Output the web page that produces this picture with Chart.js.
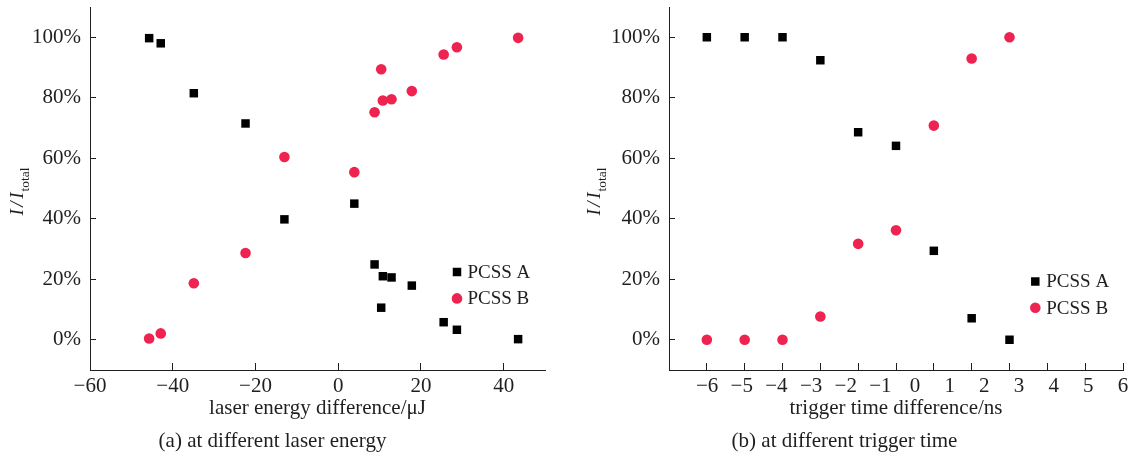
<!DOCTYPE html>
<html>
<head>
<meta charset="utf-8">
<script src="https://cdn.jsdelivr.net/npm/chart.js@4/dist/chart.umd.min.js"></script>
<style>
html, body { margin: 0; padding: 0; background: #ffffff; }
#wrap { position: relative; width: 1133px; height: 459px; overflow: hidden; }
.box { position: absolute; top: 0; height: 459px; }
#boxA { left: 0; width: 566px; }
#boxB { left: 566px; width: 567px; }
</style>
</head>
<body>
<div id="wrap">
  <div class="box" id="boxA"><canvas id="cA"></canvas></div>
  <div class="box" id="boxB"><canvas id="cB"></canvas></div>
</div>
<script>
// ---------- data ----------
// (a) at different laser energy
const energyDiff = [-45.7, -42.9, -34.9, -22.4, -13.0, 3.9, 8.8, 10.4, 10.8, 12.9, 17.8, 25.5, 28.7, 43.5];
const energyA    = [99.7, 98.0, 81.5, 71.5, 39.8, 45.0, 24.9, 10.6, 21.0, 20.6, 17.9, 5.8, 3.3, 0.2];
const energyB    = [0.4, 2.1, 18.7, 28.7, 60.4, 55.4, 75.2, 89.4, 79.1, 79.5, 82.2, 94.3, 96.7, 99.8];
// (b) at different trigger time
const triggerDiff = [-6, -5, -4, -3, -2, -1, 1, 2, 3];
const triggerA    = [100, 100, 100, 92.4, 68.6, 64.1, 29.4, 7.1, 0];
const triggerB    = [0, 0, 0, 7.7, 31.7, 36.2, 70.8, 93.0, 100];
// ticks
const yTicks = [0, 20, 40, 60, 80, 100];
const energyTicks = [-60, -40, -20, 0, 20, 40];
const triggerTickMarks = [-6, -5, -4, -3, -2, -1, 1, 2, 3, 4, 5, 6];
const triggerTickLabels = [-6, -5, -4, -3, -2, -1, 0, 1, 2, 3, 4, 5, 6];
const seriesNames = ['PCSS A', 'PCSS B'];
const captions = ['(a) at different laser energy', '(b) at different trigger time'];
const xTitles = ['laser energy difference/\u03bcJ', 'trigger time difference/ns'];

// ---------- styles ----------
const FONT = "'Liberation Serif', 'Times New Roman', Times, serif";
const INK = '#1f1f1f';
const RED = '#EE2350';
const BLACK = '#000000';
const SQ_R = 6;
const CI_R = 5.3;
const minusFmt = v => String(v).replace('-', '\u2212');

const yTitlePlugin = {
  id: 'yTitle',
  afterDraw(chart, args, opts) {
    const ctx = chart.ctx, ca = chart.chartArea;
    ctx.save();
    ctx.translate(opts.x, (ca.top + ca.bottom) / 2 + opts.dy);
    ctx.rotate(-Math.PI / 2);
    ctx.fillStyle = INK;
    ctx.textBaseline = 'alphabetic';
    ctx.textAlign = 'left';
    const mainFont = 'italic 19px ' + FONT, subFont = '13.5px ' + FONT;
    const parts = ['I', '/', 'I'];
    const gap = 2.5;
    ctx.font = mainFont;
    const pw = parts.map(p => ctx.measureText(p).width);
    const w1 = pw.reduce((a, b) => a + b, 0) + gap * (parts.length - 1);
    ctx.font = subFont;
    const w2 = ctx.measureText('total').width;
    let xx = -(w1 + w2 + 1) / 2;
    ctx.font = mainFont;
    parts.forEach((p, i) => { ctx.fillText(p, xx, 4.7); xx += pw[i] + gap; });
    xx += 1 - gap;
    ctx.font = subFont;
    ctx.fillText('total', xx, 11.3);
    ctx.restore();
  }
};

const innerLegend = {
  id: 'innerLegend',
  afterDatasetsDraw(chart, args, opts) {
    const ctx = chart.ctx, ca = chart.chartArea;
    chart.data.datasets.forEach((ds, i) => {
      const mx = ca.right - opts.fromRight;
      const my = ca.top + opts.top + i * opts.gap;
      ctx.save();
      ctx.fillStyle = ds.backgroundColor;
      if (ds.pointStyle === 'rect') {
        const h = ds.pointRadius * Math.SQRT1_2;
        ctx.fillRect(mx - h, my - h, 2 * h, 2 * h);
      } else {
        ctx.beginPath();
        ctx.arc(mx, my, ds.pointRadius, 0, 2 * Math.PI);
        ctx.fill();
      }
      ctx.fillStyle = INK;
      ctx.font = opts.size + 'px ' + FONT;
      ctx.textBaseline = 'middle';
      ctx.textAlign = 'left';
      ctx.fillText(ds.label, mx + opts.textGap, my + 1);
      ctx.restore();
    });
  }
};

function yAxis(width) {
  return {
    type: 'linear', min: -10, max: 110,
    afterBuildTicks: s => { s.ticks = yTicks.map(v => ({ value: v })); },
    afterFit: s => { s.width = width; s.paddingTop = 0; s.paddingBottom = 0; },
    grid: { display: true, drawOnChartArea: false, drawTicks: true, tickLength: -6, color: INK, lineWidth: 1 },
    border: { display: true, color: INK, width: 1 },
    ticks: { font: { family: FONT, size: 21 }, color: INK, padding: 15, callback: v => v + '%' }
  };
}

function titleOpts(text) {
  return { display: true, position: 'bottom', text: text,
    font: { family: FONT, size: 21, weight: 'normal' }, color: INK, padding: { top: 0, bottom: 4.8 } };
}

function axisTitle(text) {
  return { display: true, text: text, font: { family: FONT, size: 21 }, color: INK, padding: { top: 0, bottom: 8.4 } };
}

function scatterSets(xs, a, b) {
  return [
    { label: seriesNames[0], data: xs.map((x, i) => ({ x: x, y: a[i] })), pointStyle: 'rect',
      pointRadius: SQ_R, backgroundColor: BLACK, borderWidth: 0 },
    { label: seriesNames[1], data: xs.map((x, i) => ({ x: x, y: b[i] })), pointStyle: 'circle',
      pointRadius: CI_R, backgroundColor: RED, borderWidth: 0 }
  ];
}

// ---------- chart (a) ----------
new Chart(document.getElementById('cA'), {
  type: 'scatter',
  data: { datasets: scatterSets(energyDiff, energyA, energyB) },
  options: {
    responsive: true, maintainAspectRatio: false, animation: false, events: [],
    layout: { padding: { top: 7, right: 21, left: 0, bottom: 0 } },
    plugins: {
      legend: { display: false }, tooltip: { enabled: false },
      title: titleOpts(captions[0]),
      yTitle: { x: 18, dy: 3 },
      innerLegend: { fromRight: 88, top: 265, gap: 26.4, textGap: 10.5, size: 19 }
    },
    scales: {
      x: {
        type: 'linear', min: -60, max: 50,
        afterBuildTicks: s => { s.ticks = energyTicks.map(v => ({ value: v })); },
        afterFit: s => { s.height = 59; s.paddingLeft = 0; s.paddingRight = 0; },
        grid: { display: true, drawOnChartArea: false, tickLength: -7, color: INK, lineWidth: 1 },
        border: { display: true, color: INK, width: 1 },
        ticks: { font: { family: FONT, size: 21 }, color: INK, padding: 11, autoSkip: false, maxRotation: 0, callback: minusFmt },
        title: axisTitle(xTitles[0])
      },
      y: yAxis(90)
    }
  },
  plugins: [yTitlePlugin, innerLegend]
});

// ---------- chart (b) ----------
const triggerIndex = v => triggerTickMarks.indexOf(v);
new Chart(document.getElementById('cB'), {
  type: 'scatter',
  data: { datasets: scatterSets(triggerDiff.map(triggerIndex), triggerA, triggerB) },
  options: {
    responsive: true, maintainAspectRatio: false, animation: false, events: [],
    layout: { padding: { top: 7, right: 10, left: 0, bottom: 0 } },
    plugins: {
      legend: { display: false }, tooltip: { enabled: false },
      title: titleOpts(captions[1]),
      yTitle: { x: 29, dy: 3 },
      innerLegend: { fromRight: 87.7, top: 274.5, gap: 26.2, textGap: 11, size: 19 }
    },
    scales: {
      x: {
        type: 'linear', min: -1, max: triggerTickMarks.length - 1, weight: 0,
        afterBuildTicks: s => { s.ticks = triggerTickMarks.map((v, i) => ({ value: i })); },
        afterFit: s => { s.height = 0; s.paddingLeft = 0; s.paddingRight = 0; },
        grid: { display: true, drawOnChartArea: false, drawTicks: true, tickLength: -7, color: INK, lineWidth: 1 },
        border: { display: true, color: INK, width: 1 },
        ticks: { display: true, font: { family: FONT, size: 2 }, padding: 0, autoSkip: false, maxRotation: 0, callback: () => '' }
      },
      xl: {
        axis: 'x', type: 'linear', position: 'bottom', min: -7.1, max: 6, weight: 1,
        afterBuildTicks: s => { s.ticks = triggerTickLabels.map(v => ({ value: v })); },
        afterFit: s => { s.height = 59; s.paddingLeft = 0; s.paddingRight = 0; },
        grid: { display: false, drawTicks: false },
        border: { display: false },
        ticks: { font: { family: FONT, size: 21 }, color: INK, padding: 4, autoSkip: false, maxRotation: 0, callback: minusFmt },
        title: axisTitle(xTitles[1])
      },
      y: yAxis(103)
    }
  },
  plugins: [yTitlePlugin, innerLegend]
});
</script>
</body>
</html>
